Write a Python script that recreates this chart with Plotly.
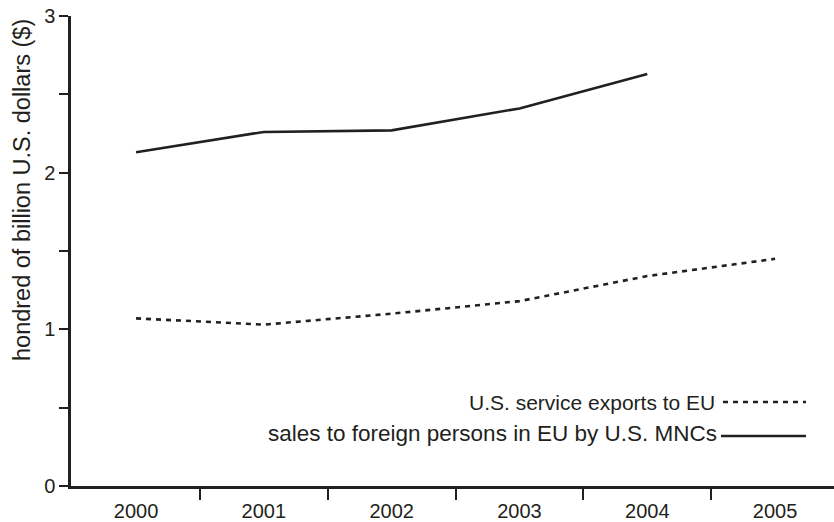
import plotly.graph_objects as go

years = [2000, 2001, 2002, 2003, 2004, 2005]
sales_years = [2000, 2001, 2002, 2003, 2004]
sales_mncs = [2.13, 2.26, 2.27, 2.41, 2.63]
service_exports = [1.07, 1.03, 1.10, 1.18, 1.34, 1.45]
ytick_vals = [0, 0.5, 1, 1.5, 2, 2.5, 3]
ytick_text = ["0", "", "1", "", "2", "", "3"]
boundary_ticks = [2000.5, 2001.5, 2002.5, 2003.5, 2004.5]

name_exports = "U.S. service exports to EU"
name_sales = "sales to foreign persons in EU by U.S. MNCs"
ytitle = "hondred of billion U.S. dollars ($)"

INK = "#231f20"
FONT = "Liberation Sans, Arial, sans-serif"

fig = go.Figure()
fig.add_trace(go.Scatter(x=years, y=service_exports, mode="lines", name=name_exports,
                         line=dict(color=INK, width=2.6, dash="5px,5px")))
fig.add_trace(go.Scatter(x=sales_years, y=sales_mncs, mode="lines", name=name_sales,
                         line=dict(color=INK, width=2.6)))

L, T, B = 71, 16, 36
W, H = 834, 522
pw = W - L
ph = H - T - B

def px(xp):
    return (xp - L) / pw

def py(yp):
    return (H - B - yp) / ph

fig.update_layout(
    width=W, height=H,
    margin=dict(l=L, r=0, t=T, b=B, autoexpand=False),
    paper_bgcolor="white", plot_bgcolor="white",
    showlegend=False,
    font=dict(family=FONT, size=20, color=INK),
    xaxis=dict(
        range=[1999.491, 2005.461],
        automargin=False,
        tickmode="array", tickvals=years, ticktext=[str(y) for y in years],
        ticks="outside", ticklen=5, tickcolor="rgba(0,0,0,0)",
        showline=True, linecolor=INK, linewidth=2.5,
        showgrid=False, zeroline=False,
        tickfont=dict(size=20, color=INK),
        minor=dict(tickmode="array", tickvals=boundary_ticks, ticks="outside",
                   ticklen=11, tickwidth=1.5, tickcolor=INK, showgrid=False),
    ),
    yaxis=dict(
        range=[0, 3],
        automargin=False,
        tickmode="array", tickvals=ytick_vals, ticktext=ytick_text,
        ticks="outside", ticklen=9, tickwidth=1.5, tickcolor=INK,
        showline=True, linecolor=INK, linewidth=2.5,
        showgrid=False, zeroline=False,
        tickfont=dict(size=20, color=INK),
    ),
)

fig.add_annotation(text=ytitle, textangle=-90, xref="paper", yref="paper",
                   x=px(22), y=py(190), xanchor="center", yanchor="middle",
                   showarrow=False, font=dict(size=23.5, color=INK))

fig.add_annotation(text=name_exports, xref="paper", yref="paper",
                   x=px(717), y=py(402), xanchor="right", yanchor="middle",
                   showarrow=False, font=dict(size=21, color=INK))
fig.add_annotation(text=name_sales, xref="paper", yref="paper",
                   x=px(719), y=py(433), xanchor="right", yanchor="middle",
                   showarrow=False, font=dict(size=22.5, color=INK))
fig.add_shape(type="line", xref="paper", yref="paper",
              x0=px(723), x1=px(806), y0=py(402), y1=py(402),
              line=dict(color=INK, width=2.6, dash="5px,5px"))
fig.add_shape(type="line", xref="paper", yref="paper",
              x0=px(721), x1=px(806), y0=py(436), y1=py(436),
              line=dict(color=INK, width=2.6))

fig.write_html("out.html", config={"displayModeBar": False})

with open("out.html", "r", encoding="utf-8") as f:
    html = f.read()
html = html.replace("<body>", "<body style=\"margin:0;padding:0;overflow:hidden\">", 1)
html = html.replace("<head>", "<head><style>html,body{margin:0;padding:0;}</style>", 1)
with open("out.html", "w", encoding="utf-8") as f:
    f.write(html)
